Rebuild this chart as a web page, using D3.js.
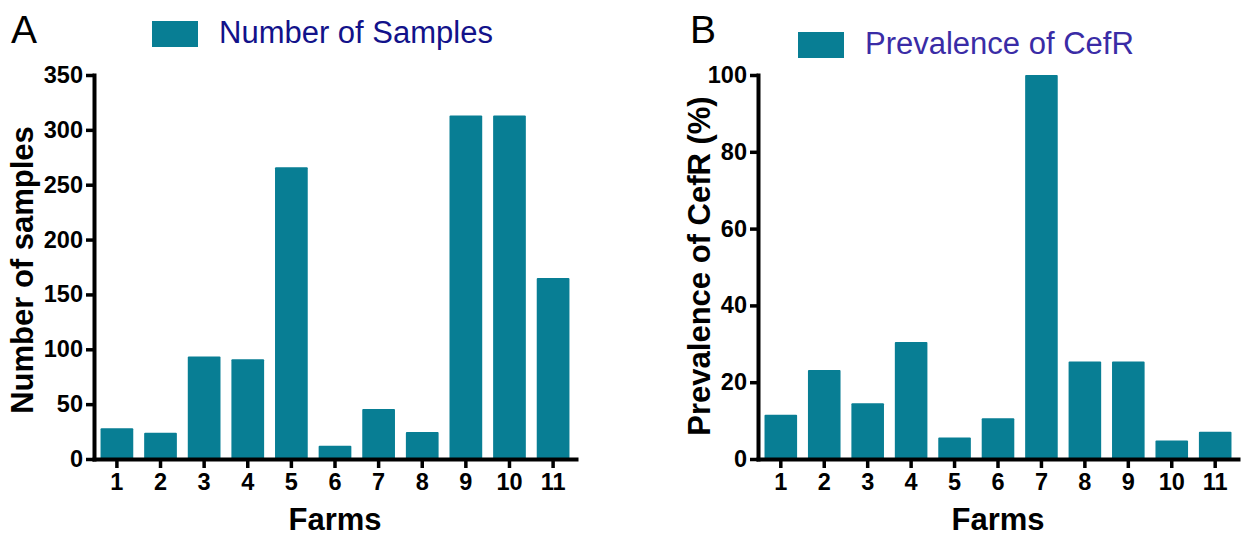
<!DOCTYPE html>
<html lang="en">
<head>
    <meta charset="UTF-8">
    <title>Farms</title>
    <script src="https://d3js.org/d3.v7.min.js"></script>
    <style>
        body { margin: 0; background: #fff; }
        svg { display: block; font-family: "Liberation Sans", Arial, sans-serif; }
        .tick text { font-size: 23.5px; font-weight: bold; fill: #000; }
    </style>
</head>
<body>
<svg id="chart" width="1246" height="536"></svg>

<script>
    const farms = ["1", "2", "3", "4", "5", "6", "7", "8", "9", "10", "11"];
    const samples = [28, 24, 93.5, 91, 266, 12, 45.5, 24.5, 313, 313, 165];
    const prevalence = [11.5, 23.2, 14.5, 30.5, 5.6, 10.6, 100, 25.4, 25.4, 4.8, 7.1];

    const barColor = "#087e94";
    const svg = d3.select("#chart");

    function drawPanel(opts) {
        const g = svg.append("g");

        const x = d3.scaleBand()
            .domain(farms)
            .range([opts.left, opts.right])
            .paddingInner(0.25)
            .paddingOuter(0.15);

        const y = d3.scaleLinear()
            .domain([0, opts.max])
            .range([459, 75]);

        g.selectAll("rect.bar")
            .data(opts.values)
            .enter().append("rect")
            .attr("class", "bar")
            .attr("x", (d, i) => x(farms[i]))
            .attr("y", d => y(d))
            .attr("width", x.bandwidth())
            .attr("height", d => y(0) - y(d))
            .attr("rx", 1)
            .attr("fill", barColor);

        const yAxis = g.append("g")
            .attr("transform", "translate(" + opts.left + ",0)")
            .call(d3.axisLeft(y).tickValues(opts.ticks).tickSize(8).tickSizeOuter(0).tickPadding(3));

        const xAxis = g.append("g")
            .attr("transform", "translate(0," + y(0) + ")")
            .call(d3.axisBottom(x).tickSize(9).tickSizeOuter(0).tickPadding(5));

        [yAxis, xAxis].forEach(a => {
            a.select(".domain").attr("stroke", "#000").attr("stroke-width", 4).attr("stroke-linecap", "square");
            a.selectAll(".tick line").attr("stroke", "#000").attr("stroke-width", 3.5);
        });

        // axis titles
        g.append("text")
            .attr("x", (opts.left + opts.right) / 2)
            .attr("y", 530)
            .attr("text-anchor", "middle")
            .attr("font-size", 31)
            .attr("font-weight", "bold")
            .text("Farms");

        g.append("text")
            .attr("transform", "translate(" + opts.yLabelX + "," + opts.yLabelY + ") rotate(-90)")
            .attr("text-anchor", "middle")
            .attr("font-size", 31)
            .attr("font-weight", "bold")
            .text(opts.yLabel);

        // panel letter
        g.append("text")
            .attr("x", opts.letterX)
            .attr("y", 43)
            .attr("font-size", 39)
            .text(opts.letter);

        // legend
        g.append("rect")
            .attr("x", opts.legX)
            .attr("y", opts.legY)
            .attr("width", 46)
            .attr("height", 26)
            .attr("fill", barColor);

        g.append("text")
            .attr("x", opts.legX + 67)
            .attr("y", opts.legY + 22)
            .attr("font-size", 31)
            .attr("fill", opts.legColor)
            .text(opts.legText);
    }

    drawPanel({
        left: 94, right: 576, max: 350,
        ticks: [0, 50, 100, 150, 200, 250, 300, 350],
        values: samples,
        yLabel: "Number of samples", yLabelX: 33, yLabelY: 270,
        letter: "A", letterX: 11,
        legX: 152, legY: 21, legText: "Number of Samples", legColor: "#12128a"
    });

    drawPanel({
        left: 758, right: 1238, max: 100,
        ticks: [0, 20, 40, 60, 80, 100],
        values: prevalence,
        yLabel: "Prevalence of CefR (%)", yLabelX: 710, yLabelY: 266,
        letter: "B", letterX: 690,
        legX: 798, legY: 32, legText: "Prevalence of CefR", legColor: "#3a2ca6"
    });
</script>
</body>
</html>
